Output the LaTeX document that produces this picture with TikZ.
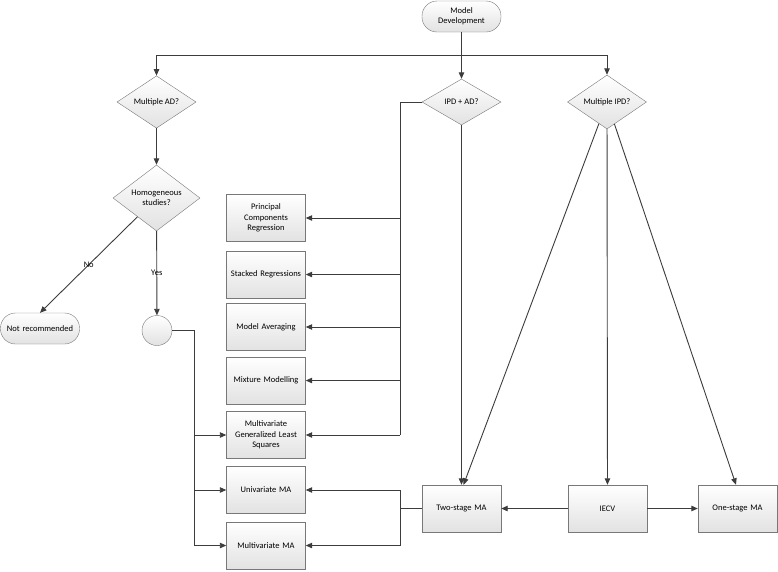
\documentclass[tikz,border=0pt]{standalone}
\usepackage{fontspec}
\setmainfont{Carlito}
\usetikzlibrary{arrows.meta,shapes.geometric}
\definecolor{LineGrey}{RGB}{60,60,60}
\definecolor{EdgeGrey}{RGB}{120,120,120}
\definecolor{FillGrey}{RGB}{226,226,226}

\begin{document}
\begin{tikzpicture}[x=1pt,y=-1pt,
    font=\fontsize{8.5}{10.3}\selectfont,
    box/.style={draw=EdgeGrey,top color=white,bottom color=FillGrey,
      minimum width=79pt,minimum height=47pt,text width=74pt,align=center,inner sep=1pt},
    term/.style={box,rounded corners=15pt,minimum height=31pt},
    choice/.style={diamond,draw=EdgeGrey,top color=white,bottom color=FillGrey,
      minimum width=79pt,minimum height=46pt,inner sep=0pt,align=center},
    link/.style={draw=LineGrey,line width=0.9pt},
    arr/.style={link,-{Triangle[length=6.5pt,width=5.5pt]}}]
  \useasboundingbox (0,0) rectangle (778,571);

  % start and decisions
  \node[term] (md) at (461.5,16.5) {Model\\Development};
  \node[choice] (madd) at (156.5,102) {Multiple AD?};
  \node[choice] (ipdad) at (461.5,102) {IPD + AD?};
  \node[choice] (mipd) at (607,102) {Multiple IPD?};
  \node[choice,minimum width=87pt,minimum height=52pt] (homog) at (156.5,198) {Homogeneous\\studies?};
  \node[term] (notrec) at (40,328.5) {Not recommended};
  \node[circle,draw=EdgeGrey,top color=white,bottom color=FillGrey,minimum size=30pt,inner sep=0pt] (circ) at (157,330.5) {};

  % methods
  \node[box] (pcr) at (266,218) {Principal\\Components\\Regression};
  \node[box] (stk) at (266,274.5) {Stacked Regressions};
  \node[box] (mav) at (266,327) {Model Averaging};
  \node[box] (mix) at (266,380.5) {Mixture Modelling};
  \node[box] (mgls) at (266,435) {Multivariate\\Generalized Least\\Squares};
  \node[box] (uma) at (266,490) {Univariate MA};
  \node[box] (mma) at (266,545.5) {Multivariate MA};
  \node[box] (two) at (461.5,508.5) {Two-stage MA};
  \node[box] (iecv) at (607.5,508.5) {IECV};
  \node[box] (one) at (737.5,508.5) {One-stage MA};

  % junction points
  \coordinate (split) at (461.5,55);
  \coordinate (ta) at (400,102);
  \coordinate (tb) at (400,435);
  \coordinate (ca) at (194,330.5);
  \coordinate (cb) at (194,545.5);
  \coordinate (tsa) at (400,508.5);

  % connectors
  \draw[arr] (md) -- (split) -| (madd);
  \draw[arr] (split) -| (mipd);
  \draw[arr] (split) -- (ipdad);
  \draw[arr] (madd) -- (homog);
  \draw[arr] (homog) -- (notrec.north) node[pos=.5] {No};
  \draw[arr] (homog) -- (circ) node[pos=.5] {Yes};

  \draw[link] (ipdad.west) -- (ta) -- (tb);
  \foreach \b in {pcr,stk,mav,mix,mgls}
    \draw[arr] (ta |- \b) -- (\b.east);

  \draw[link] (circ.east) -- (ca) -- (cb);
  \foreach \b in {mgls,uma,mma}
    \draw[arr] (ca |- \b) -- (\b.west);

  \draw[link] (two.west) -- (tsa);
  \foreach \b in {uma,mma}
    \draw[arr] (tsa) |- (\b.east);

  \draw[arr] (ipdad) -- (two);
  \draw[arr] (mipd) -- ([xshift=2pt]two.north);
  \draw[arr] (mipd) -- (iecv);
  \draw[arr] (mipd) -- ([xshift=-1.5pt]one.north);
  \draw[arr] (iecv) -- (two);
  \draw[arr] (iecv) -- (one);
\end{tikzpicture}
\end{document}
